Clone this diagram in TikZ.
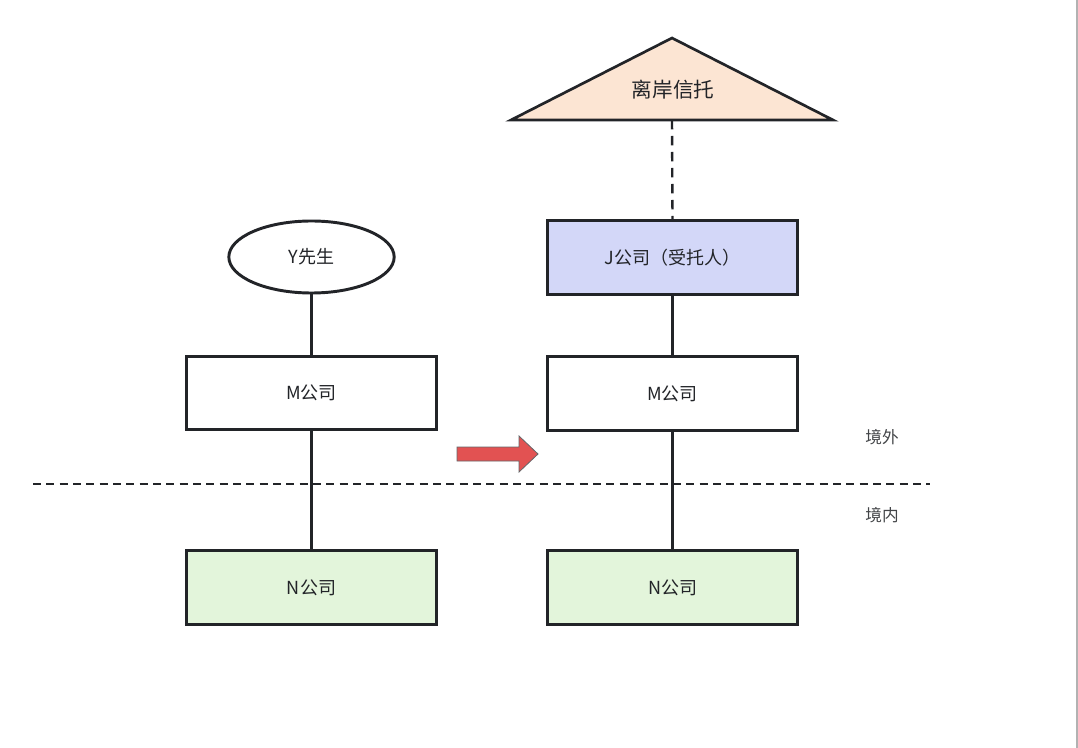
\documentclass[tikz,border=0pt]{standalone}
\usepackage{fontspec}
\newfontfamily\cjk{Noto Sans CJK SC}
\usetikzlibrary{shapes.geometric,shapes.arrows}
\definecolor{peach}{HTML}{FCE5D3}
\definecolor{lav}{HTML}{D3D7F8}
\definecolor{mint}{HTML}{E3F5DB}
\definecolor{ink}{HTML}{222428}
\definecolor{redarrow}{HTML}{E25252}
\tikzset{
  box/.style={draw=ink,line width=2.4pt,minimum width=188pt,minimum height=55pt,inner sep=0pt,font=\cjk\fontsize{13.5}{15}\selectfont,text=ink},
  conn/.style={draw=ink,line width=1.8pt},
  lbl/.style={font=\cjk\fontsize{12.5}{14}\selectfont,text=ink!85}
}
\begin{document}
\begin{tikzpicture}[x=0.75pt,y=-0.75pt]
\useasboundingbox (0,0) rectangle (1078,748);
\fill[white] (0,0) rectangle (1078,748);
\draw[gray!60,line width=1pt] (1077,0) -- (1077,748);
% triangle
\draw[ink,line width=2pt,fill=peach,line join=miter] (672,38) -- (833,120) -- (511,120) -- cycle;
\node[font=\cjk\fontsize{15.5}{17}\selectfont,text=ink] (trust) at (673,90) {离岸信托};
\coordinate (tbase) at (672,120);
% right column
\node[box,fill=lav] (J) at (672.5,257.5) {J公司（受托人）};
\node[box,fill=white] (MR) at (672.5,393.5) {M公司};
\node[box,fill=mint] (NR) at (672.5,587.5) {N公司};
% left column
\node[draw=ink,line width=2.2pt,ellipse,minimum width=124pt,minimum height=54pt,inner sep=0pt,font=\cjk\fontsize{13.5}{15}\selectfont,text=ink] (Y) at (311.5,257) {Y先生};
\node[box,fill=white] (ML) at (311.5,393) {M公司};
\node[box,fill=mint] (NL) at (311.5,587.5) {N公司};
% connectors
\draw[conn,dash pattern=on 7pt off 5pt] (tbase) -- (J.north);
\draw[conn] (J) -- (MR);
\draw[conn] (MR) -- (NR);
\draw[conn] (Y) -- (ML);
\draw[conn] (ML) -- (NL);
% boundary
\coordinate (b1) at (33,484);
\coordinate (b2) at (930,484);
\draw[ink,line width=1.3pt,dash pattern=on 6pt off 4pt] (b1) -- (b2);
\node[lbl] (out) at (882,437) {境外};
\node[lbl] (in) at (882,515) {境内};
% red arrow
\draw[ink!70,line width=0.6pt,fill=redarrow] (457,447) -- (519,447) -- (519,436) -- (538,454) -- (519,472) -- (519,461) -- (457,461) -- cycle;
\end{tikzpicture}
\end{document}
